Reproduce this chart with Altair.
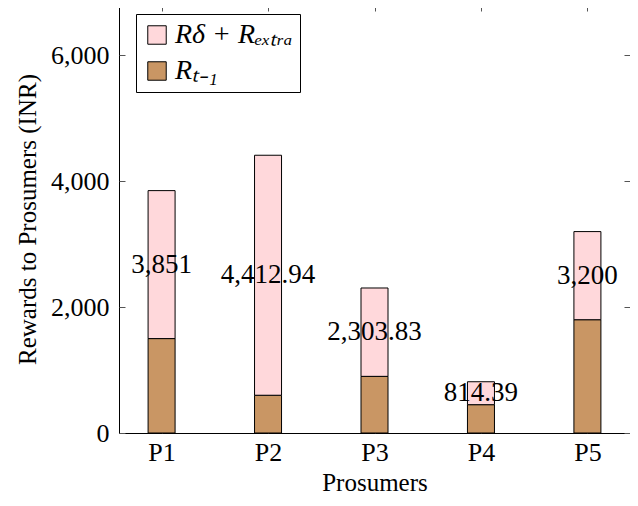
import altair as alt
import pandas as pd

prosumers = ["P1", "P2", "P3", "P4", "P5"]
r_prev = [1500, 600, 900, 450, 1800]
totals = [3851, 4412.94, 2303.83, 814.39, 3200]
total_labels = ["3,851", "4,412.94", "2,303.83", "814.39", "3,200"]

LBL_TOP = "Rδ + Rₑₓₜᵣₐ"
LBL_BOT = "Rₜ₋₁"
series_names = [LBL_TOP, LBL_BOT]
series_colors = ["#FFD8DB", "#C99664"]

rows = []
for p, b, t in zip(prosumers, r_prev, totals):
    rows.append({"P": p, "series": LBL_BOT, "value": b, "ord": 0})
    rows.append({"P": p, "series": LBL_TOP, "value": round(t - b, 2), "ord": 1})
bars_df = pd.DataFrame(rows)

lab_df = pd.DataFrame({
    "P": prosumers,
    "mid": [(b + t) / 2 for b, t in zip(r_prev, totals)],
    "label": total_labels,
})

FONT = "Liberation Serif"

xscale = alt.Scale(type="point", padding=0.4)
yscale = alt.Scale(domain=[0, 6800], nice=False)

bars = alt.Chart(bars_df).mark_bar(size=27, stroke="black", strokeWidth=1).encode(
    x=alt.X("P:N", scale=xscale, sort=prosumers,
            axis=alt.Axis(title="Prosumers", orient="bottom", offset=-6, tickSize=6,
                          domain=False, labelPadding=6, labelAngle=0, titlePadding=5,
                          titleFontSize=25, tickColor="#555")),
    y=alt.Y("value:Q", stack="zero", scale=yscale,
            axis=alt.Axis(title="Rewards to Prosumers (INR)", orient="left",
                          values=[0, 2000, 4000, 6000], format=",.0f", offset=-6,
                          tickSize=6, domain=False, labelPadding=10, titlePadding=10,
                          tickColor="#555", grid=False)),
    color=alt.Color("series:N", scale=alt.Scale(domain=series_names, range=series_colors),
                    legend=alt.Legend(title=None, orient="none", legendX=17, legendY=9,
                                      symbolType="square", symbolSize=340,
                                      symbolStrokeColor="black", symbolStrokeWidth=1,
                                      labelFont=FONT, labelFontSize=28,
                                      labelFontStyle="italic", labelColor="black",
                                      fillColor="white", strokeColor="black",
                                      padding=7, rowPadding=8, cornerRadius=0,
                                      labelOffset=4, labelLimit=300)),
    order=alt.Order("ord:Q"),
)

labels = alt.Chart(lab_df).mark_text(font=FONT, fontSize=27, color="black",
                                     baseline="middle", align="center").encode(
    x=alt.X("P:N", scale=xscale, sort=prosumers,
            axis=alt.Axis(title=None, orient="top", labels=False, offset=-6, tickSize=6,
                          domain=False, tickColor="#555")),
    y=alt.Y("mid:Q", scale=yscale,
            axis=alt.Axis(title=None, orient="right", labels=False,
                          values=[0, 2000, 4000, 6000], offset=-6, tickSize=6,
                          domain=False, tickColor="#555", grid=False)),
    text="label:N",
)

chart = alt.layer(bars, labels).resolve_axis(x="independent", y="independent").properties(
    width=511, height=428,
    autosize=alt.AutoSizeParams(type="none"),
    padding={"left": 111, "top": -3, "right": 0, "bottom": 62},
).configure_view(stroke="black", strokeWidth=1).configure_axis(
    labelFont=FONT, labelFontSize=26, labelColor="black",
    titleFont=FONT, titleFontSize=25, titleColor="black", titleFontWeight="normal",
)

chart.save("out.html", embed_options={"renderer": "svg", "actions": False})
